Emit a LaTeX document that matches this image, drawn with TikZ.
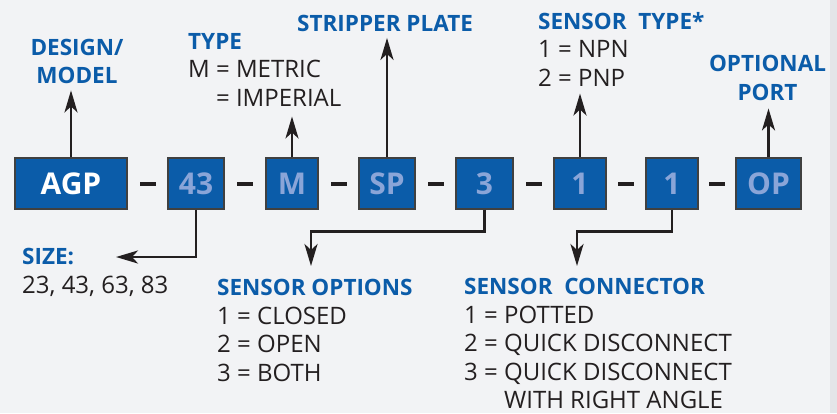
\documentclass[tikz,border=0pt]{standalone}
\usepackage{fontspec}
\setmainfont{Open Sans}
\usetikzlibrary{arrows.meta, positioning, calc}
\definecolor{codeblue}{HTML}{0B5CA9}
\definecolor{codetext}{HTML}{8AA5D8}
\definecolor{inkblack}{HTML}{231F20}
\definecolor{pagegray}{HTML}{F2F3F5}
\definecolor{edgegray}{HTML}{E4E5E8}
\newcommand{\fieldhd}[1]{{\color{codeblue}\fontsize{22.5}{28.5}\selectfont\bfseries #1}}
\tikzset{
    codebox/.style={rectangle, fill=codeblue, draw=black!75, line width=1.3pt, minimum height=51pt, inner sep=0pt, text=codetext, font=\fontsize{30}{30}\selectfont\bfseries},
    codedash/.style={rectangle, fill=inkblack, minimum width=16pt, minimum height=4pt, inner sep=0pt},
    codearrow/.style={-{Stealth[length=22pt,width=13pt,inset=6pt]}, line width=2.7pt, draw=inkblack},
    codehead/.style={inner sep=0pt, text=codeblue, font=\fontsize{22.5}{28.5}\selectfont\bfseries},
    codenote/.style={inner sep=0pt, text=inkblack, align=left, font=\fontsize{24}{28.5}\selectfont}
}

\begin{document}
\begin{tikzpicture}[x=1pt, y=-1pt]
    \fill[pagegray] (0,0) rectangle (837,413);
    \fill[edgegray] (830,0) rectangle (837,413);
    \useasboundingbox (0,0) rectangle (837,413);

    % Ordering code
    \node[codebox, minimum width=112pt, text=white] (agp) at (71,183.5) {AGP};
    \node[codebox, minimum width=56pt] (size) at (196,183.5) {43};
    \node[codebox, minimum width=52pt] (type) at (292,183.5) {M};
    \node[codebox, minimum width=56pt] (plate) at (387,183.5) {SP};
    \node[codebox, minimum width=57pt] (option) at (484.5,183.5) {3};
    \node[codebox, minimum width=52pt] (sensor) at (580,183.5) {1};
    \node[codebox, minimum width=52pt] (connect) at (672,183.5) {1};
    \node[codebox, minimum width=65pt] (port) at (768.5,183.5) {OP};
    \node[codedash] (d1) at (147.5,183.5) {};
    \node[codedash] (d2) at (245,183.5) {};
    \node[codedash] (d3) at (338.5,183.5) {};
    \node[codedash] (d4) at (435.5,183.5) {};
    \node[codedash] (d5) at (533.5,183.5) {};
    \node[codedash] (d6) at (626,183.5) {};
    \node[codedash] (d7) at (717,183.5) {};

    % Labels above
    \node[codehead, align=center, anchor=north] (designlbl) at (77,39) {DESIGN/\\MODEL};
    \node[codenote, anchor=north west] (typelbl) at (188,33) {\fieldhd{TYPE}\\M = METRIC\\\hphantom{M\ }= IMPERIAL};
    \node[codehead, anchor=north west] (platelbl) at (297,15) {STRIPPER PLATE};
    \node[codenote, anchor=north west] (sensorlbl) at (538,12) {\fieldhd{SENSOR\ \ TYPE*}\\1 = NPN\\2 = PNP};
    \node[codehead, align=center, anchor=north] (portlbl) at (767.5,55) {OPTIONAL\\PORT};

    % Labels below
    \node[codenote, anchor=north west] (sizelbl) at (22,248) {\fieldhd{SIZE:}\\23, 43, 63, 83};
    \node[codenote, anchor=north west] (optionlbl) at (217,279) {\fieldhd{SENSOR OPTIONS}\\1 = CLOSED\\2 = OPEN\\3 = BOTH};
    \node[codenote, anchor=north west] (connectlbl) at (464,278) {\fieldhd{SENSOR\ \ CONNECTOR}\\1 = POTTED\\2 = QUICK DISCONNECT\\3 = QUICK DISCONNECT\\\hphantom{3 = }WITH RIGHT ANGLE};
    \coordinate (sizetip) at (116,257);
    \coordinate (optiontip) at (311,266);
    \coordinate (connecttip) at (577,266);

    % Arrows up
    \draw[codearrow] (agp.north) -- ([yshift=-6pt]agp.north |- designlbl.south);
    \draw[codearrow] (type.north) -- ([yshift=-10pt]type.north |- typelbl.south);
    \draw[codearrow] (plate.north) -- ([yshift=-6pt]plate.north |- platelbl.south);
    \draw[codearrow] (sensor.north) -- ([yshift=-7pt]sensor.north |- sensorlbl.south);
    \draw[codearrow] (port.north) -- ([yshift=-8pt]port.north |- portlbl.south);

    % Arrows down
    \draw[codearrow] (size.south) |- (sizetip);
    \draw[codearrow] (option.south) -- ++(0,22) -| (optiontip);
    \draw[codearrow] (connect.south) -- ++(0,22) -| (connecttip);
\end{tikzpicture}
\end{document}
